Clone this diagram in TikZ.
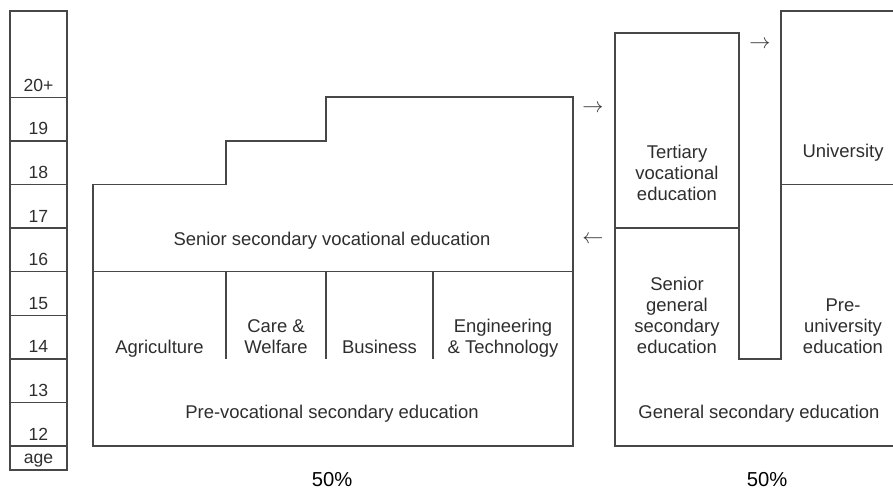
\documentclass[tikz,border=0pt]{standalone}
\usepackage{fontspec}
\setmainfont{Liberation Sans}
\usepackage{tikz}
\usetikzlibrary{positioning}

\begin{document}
\begin{tikzpicture}[
 wall/.style={draw=black!72,line width=0.8pt},
 lbl/.style={text=black!82,align=center,inner sep=0pt,anchor=south,text depth=0pt,
  font=\fontsize{10.5}{11.9}\selectfont},
 agelbl/.style={lbl,anchor=base,font=\fontsize{10}{11}\selectfont},
 pct/.style={text=black,inner sep=0pt,font=\fontsize{11.5}{13}\selectfont},
 dir/.style={text=black!80,inner sep=0pt,font=\fontsize{12}{13}\selectfont}]
\clip (0,0) rectangle (17.86,9.8);
% age column
\draw[wall] (0.2,0.40) rectangle (1.34,9.58);
\foreach \k/\a in {0/12,1/13,2/14,3/15,4/16,5/17,6/18,7/19,8/20+}{
 \draw[wall] (0.2,0.88+0.872*\k)--(1.34,0.88+0.872*\k);
 \node[agelbl] (age\k) at (0.77,1.0+0.872*\k) {\a};}
\node[agelbl] (agehead) at (0.77,0.53) {age};
% vocational track
\draw[wall] (1.86,0.88)--(1.86,6.112)--(4.52,6.112)--(4.52,6.984)--(6.52,6.984)
 --(6.52,7.856)--(11.46,7.856)--(11.46,0.88)--cycle;
\draw[wall] (1.86,4.368)--(11.46,4.368);
\foreach \x in {4.52,6.52,8.66} \draw[wall] (\x,4.368)--(\x,2.624);
\node[lbl] (ssve) at (6.64,4.89) {Senior secondary vocational education};
\node[lbl] (agri) at (3.19,2.72) {Agriculture};
\node[lbl] (care) at (5.52,2.72) {Care \&\\Welfare};
\node[lbl] (busi) at (7.59,2.72) {Business};
\node[lbl] (engi) at (10.06,2.72) {Engineering\\\& Technology};
\node[lbl] (pvse) at (6.64,1.42) {Pre-vocational secondary education};
\node[pct] (pctl) at (6.64,0.2) {50\%};
% transfers
\node[dir] (tohbo) at (11.86,7.62) {$\rightarrow$};
\node[dir] (tombo) at (11.86,5.00) {$\leftarrow$};
\node[dir] (touni) at (15.20,8.90) {$\rightarrow$};
% general track
\draw[wall] (17.9,0.88)--(12.30,0.88)--(12.30,9.14)--(14.78,9.14)--(14.78,2.624)
 --(15.62,2.624)--(15.62,9.58)--(17.9,9.58);
\draw[wall] (12.30,5.24)--(14.78,5.24);
\draw[wall] (15.62,6.112)--(17.9,6.112);
\node[lbl] (tve) at (13.54,5.78) {Tertiary\\vocational\\education};
\node[lbl] (univ) at (16.86,6.64) {University};
\node[lbl] (sgse) at (13.54,2.72) {Senior\\general\\secondary\\education};
\node[lbl] (preu) at (16.86,2.72) {Pre-\\university\\education};
\node[lbl] (gse) at (15.18,1.42) {General secondary education};
\node[pct] (pctr) at (15.34,0.2) {50\%};
\end{tikzpicture}
\end{document}
